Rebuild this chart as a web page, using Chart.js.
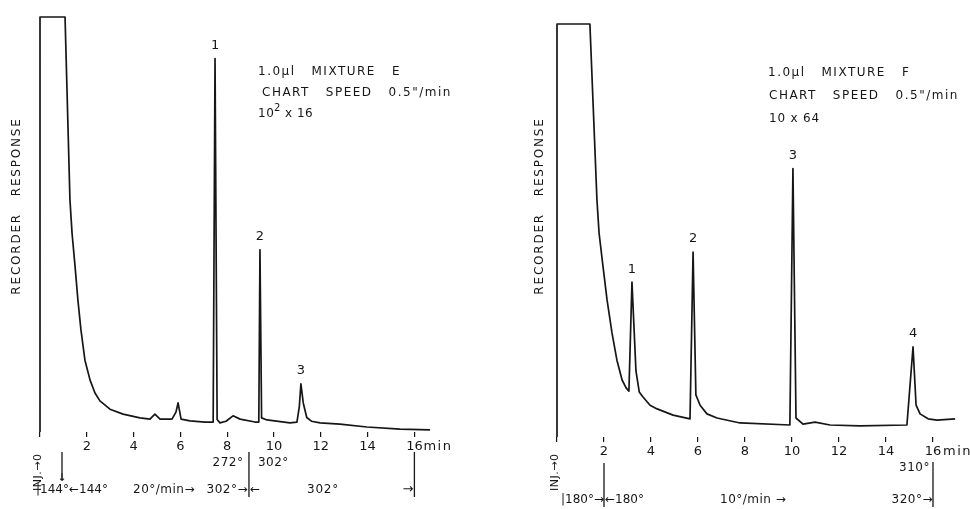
<!DOCTYPE html>
<html>
<head>
<meta charset="utf-8">
<script src="https://cdn.jsdelivr.net/npm/chart.js@4.4.0/dist/chart.umd.min.js"></script>
<style>
  body { margin: 0; background: #fff; width: 970px; height: 509px; overflow: hidden; position: relative; }
  .panel { position: absolute; top: 0; width: 485px; height: 509px; }
</style>
</head>
<body>
<div class="panel" style="left:0"><canvas id="chartE" width="485" height="509"></canvas></div>
<div class="panel" style="left:485px"><canvas id="chartF" width="485" height="509"></canvas></div>
<script>
let ink = '#161616';
let xTicks = [0, 2, 4, 6, 8, 10, 12, 14, 16];

// mixture E : time (min) / recorder response
let timeE = [0, 0, 1.07, 1.28, 1.37, 1.50, 1.62, 1.75, 1.92, 2.14, 2.35, 2.56, 2.99, 3.55, 4.27, 4.70, 4.91, 5.13, 5.64,
             5.81, 5.90, 6.03, 6.41, 7.05, 7.40, 7.48, 7.57, 7.69, 7.95, 8.25, 8.55, 9.19, 9.35, 9.40, 9.47, 9.70, 10.68, 10.98, 11.08,
             11.15, 11.25, 11.40, 11.60, 11.97, 12.82, 13.97, 15.38, 16.67];
let respE = [0, 100, 100, 55.9, 47.9, 39.8, 31.8, 24.6, 17.3, 12.5, 9.4, 7.5, 5.5, 4.3, 3.4, 3.1, 4.3, 3.1, 3.1,
             4.8, 7.0, 3.1, 2.7, 2.4, 2.4, 90, 3.0, 2.2, 2.6, 3.9, 3.1, 2.4, 2.4, 43.9, 3.4, 2.9, 2.2, 2.4, 6,
             11.6, 7, 3.5, 2.6, 2.2, 1.9, 1.2, 0.7, 0.5];
let peakE = ['1', '2', '3'];
let peakAtE = [7.48, 9.40, 11.15];

// mixture F
let timeF = [0, 0, 1.40, 1.70, 1.79, 1.96, 2.13, 2.34, 2.55, 2.77, 2.94, 3.06, 3.19, 3.36, 3.50, 3.66, 3.96, 4.26, 4.94, 5.66,
             5.79, 5.91, 6.09, 6.38, 6.81, 7.79, 9.91, 10.04, 10.17, 10.47, 10.98, 11.62, 12.89, 14.89, 15.15, 15.28, 15.45, 15.79, 16.17, 16.94];
let respF = [0, 100, 100, 57.4, 49.4, 41.2, 33.2, 25.2, 18.6, 13.8, 11.9, 11.1, 37.5, 16.0, 10.9, 9.7, 7.7, 6.8, 5.3, 4.4,
             44.8, 10.2, 7.7, 5.6, 4.6, 3.4, 2.9, 65, 4.6, 3.1, 3.6, 2.9, 2.7, 2.9, 21.8, 7.7, 5.6, 4.4, 4.1, 4.4];
let peakF = ['1', '2', '3', '4'];
let peakAtF = [3.19, 5.79, 10.04, 15.15];

// helpers for the hand lettering
function text(ctx, str, x, y, align, size, spacing) {
    ctx.save();
    ctx.font = size + 'px "DejaVu Sans"';
    ctx.letterSpacing = spacing + 'px';
    ctx.textAlign = align;
    ctx.textBaseline = 'middle';
    ctx.fillStyle = ink;
    ctx.fillText(str, x, y);
    ctx.restore();
}
function rotText(ctx, str, x, y, align, size, spacing) {
    ctx.save();
    ctx.translate(x, y);
    ctx.rotate(-Math.PI / 2);
    text(ctx, str, 0, 0, align, size, spacing);
    ctx.restore();
}
function vline(ctx, x, y1, y2) {
    ctx.save();
    ctx.strokeStyle = ink;
    ctx.lineWidth = 1.3;
    ctx.beginPath();
    ctx.moveTo(x, y1);
    ctx.lineTo(x, y2);
    ctx.stroke();
    ctx.restore();
}
function peakLabels(chart, names, at, times, resp) {
    let xs = chart.scales.x, ys = chart.scales.y;
    for (let i = 0; i < names.length; i++) {
        let k = times.indexOf(at[i]);
        text(chart.ctx, names[i], xs.getPixelForValue(times[k]), ys.getPixelForValue(resp[k]) - 13, 'center', 13, 0);
    }
}

function notesE(chart) {
    let ctx = chart.ctx, xs = chart.scales.x;
    peakLabels(chart, peakE, peakAtE, timeE, respE);
    rotText(ctx, 'RECORDER   RESPONSE', 17, 206, 'center', 12, 1.8);
    text(ctx, '1.0µl   MIXTURE   E', 258, 72, 'left', 12, 1.5);
    text(ctx, 'CHART   SPEED   0.5"/min', 262, 93, 'left', 12, 1.5);
    text(ctx, '10', 258, 114, 'left', 12, 0.5);
    text(ctx, '2', 274, 108, 'left', 10, 0);
    text(ctx, 'x 16', 285, 114, 'left', 12, 0.5);

    let x0 = xs.getPixelForValue(0), x16 = xs.getPixelForValue(16);
    text(ctx, 'min', x16 + 9, 447, 'left', 13, 1.5);
    rotText(ctx, 'INJ.→0', x0 - 2, 491, 'left', 11, 0.5);

    let xc = xs.getPixelForValue(8.93);
    vline(ctx, xc, 452, 497);
    vline(ctx, x16, 452, 497);
    text(ctx, '272°', xc - 21, 463, 'center', 12, 0.5);
    text(ctx, '302°', xc + 9, 463, 'left', 12, 0.5);

    let xa = xs.getPixelForValue(0.94);
    vline(ctx, xa, 452, 480);
    text(ctx, '↓', xa, 478, 'center', 11, 0);

    text(ctx, '|144°←144°', 36, 490, 'left', 12, 0);
    text(ctx, '20°/min→', 133, 490, 'left', 12, 0.5);
    text(ctx, '302°→', xc - 1, 490, 'right', 12, 0.5);
    text(ctx, '←', xc + 1, 490, 'left', 12, 0);
    text(ctx, '302°', 307, 490, 'left', 12, 0.8);
    text(ctx, '→', x16 - 1, 490, 'right', 13, 0);
}

function notesF(chart) {
    let ctx = chart.ctx, xs = chart.scales.x;
    peakLabels(chart, peakF, peakAtF, timeF, respF);
    rotText(ctx, 'RECORDER   RESPONSE', 55, 206, 'center', 12, 1.8);
    text(ctx, '1.0µl   MIXTURE   F', 283, 73, 'left', 12, 1.5);
    text(ctx, 'CHART   SPEED   0.5"/min', 284, 96, 'left', 12, 1.5);
    text(ctx, '10 x 64', 284, 119, 'left', 12, 0.8);

    let x0 = xs.getPixelForValue(0), x2 = xs.getPixelForValue(2), x16 = xs.getPixelForValue(16);
    text(ctx, 'min', x16 + 10, 452, 'left', 13, 1.5);
    rotText(ctx, 'INJ.→0', x0 - 2, 491, 'left', 11, 0.5);

    vline(ctx, x2, 463, 507);
    vline(ctx, x16, 462, 507);
    text(ctx, '310°', x16 - 3, 468, 'right', 12, 0.5);
    text(ctx, '|180°→', x2, 500, 'right', 12, 0);
    text(ctx, '←180°', x2 + 1, 500, 'left', 12, 0);
    text(ctx, '10°/min →', 235, 500, 'left', 12, 0.5);
    text(ctx, '320°→', x16, 500, 'right', 12, 0.5);
}

function makeChart(id, times, resp, pad, axisH, notes) {
    let pts = [];
    for (let i = 0; i < times.length; i++) {
        pts.push({x: times[i], y: resp[i]});
    }
    return new Chart(document.getElementById(id), {
        type: 'line',
        data: {
            datasets: [{
                data: pts,
                borderColor: ink,
                borderWidth: 1.7,
                borderJoinStyle: 'round',
                pointRadius: 0,
                fill: false,
                tension: 0,
                clip: false
            }]
        },
        options: {
            responsive: false,
            animation: false,
            layout: { padding: pad },
            plugins: { legend: { display: false }, tooltip: { enabled: false } },
            scales: {
                x: {
                    type: 'linear', min: 0, max: 17,
                    afterBuildTicks: function (s) { s.ticks = xTicks.map(v => ({value: v})); },
                    afterFit: function (s) { s.height = axisH; },
                    grid: { drawOnChartArea: false, drawTicks: true, tickLength: 5, color: ink, lineWidth: 1.2 },
                    border: { display: false },
                    ticks: {
                        autoSkip: false, maxRotation: 0, padding: 2, color: ink,
                        font: { family: 'DejaVu Sans', size: 13 },
                        callback: v => v === 0 ? '' : String(v)
                    }
                },
                y: { display: false, min: 0, max: 100 }
            }
        },
        plugins: [{ id: 'notes', afterDraw: notes }]
    });
}

makeChart('chartE', timeE, respE, {left: 40, right: 47.2, top: 17, bottom: 0}, 77, notesE);
makeChart('chartF', timeF, respF, {left: 72, right: 13.5, top: 24, bottom: 0}, 72, notesF);
</script>
</body>
</html>
